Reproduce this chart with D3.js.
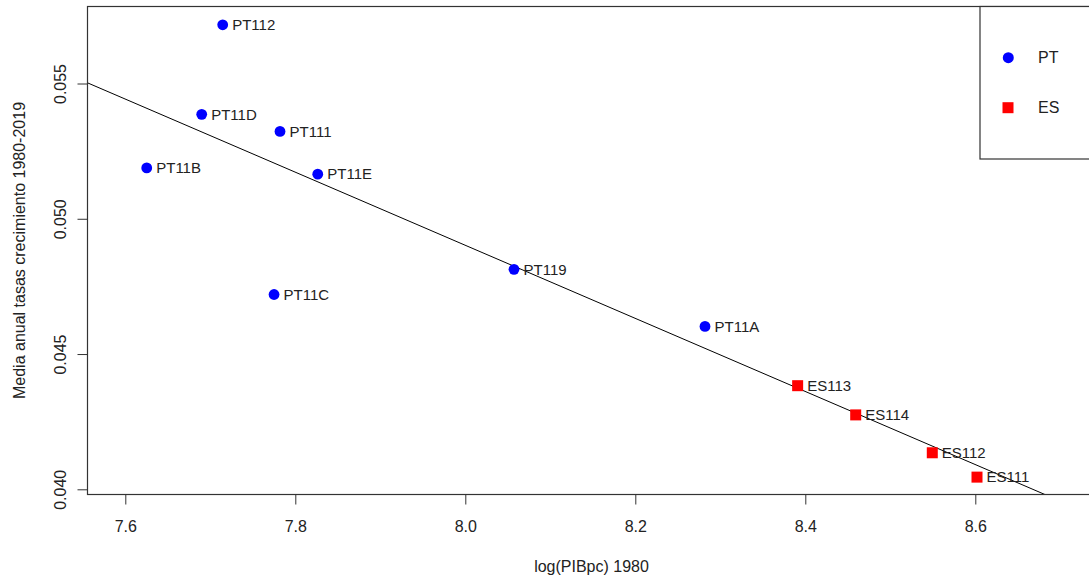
<!DOCTYPE html>
<html>
<head>
<meta charset="utf-8">
<script src="https://cdn.jsdelivr.net/npm/d3@7"></script>
<style>
  html, body { margin: 0; padding: 0; background: #fff; }
  svg { display: block; font-family: "Liberation Sans", Arial, sans-serif; }
</style>
</head>
<body>
<svg id="chart" width="1089" height="581"></svg>
<script>
// Regions, log GDP per capita in 1980 and mean annual growth 1980-2019
const regions  = ["PT112", "PT11D", "PT111", "PT11B", "PT11E", "PT11C", "PT119", "PT11A",
                  "ES113", "ES114", "ES112", "ES111"];
const country  = ["PT", "PT", "PT", "PT", "PT", "PT", "PT", "PT", "ES", "ES", "ES", "ES"];
const logGdp   = [7.7146, 7.6899, 7.7820, 7.6252, 7.8264, 7.7750, 8.0573, 8.2820,
                  8.3910, 8.4593, 8.5494, 8.6020];
const growth   = [0.05717, 0.05386, 0.05323, 0.05188, 0.05165, 0.04720, 0.04813, 0.04602,
                  0.04383, 0.04275, 0.04135, 0.04045];

// Fitted regression line: growth = intercept + slope * logGdp
const intercept = 0.1571;
const slope = -0.01351;

const xTicks = [7.6, 7.8, 8.0, 8.2, 8.4, 8.6];
const yTicks = [0.040, 0.045, 0.050, 0.055];
const legendKeys = ["PT", "ES"];

const svg = d3.select("#chart");

// Plot frame (right side runs past the page edge)
const frame = { left: 87.5, right: 1095.5, top: 6.5, bottom: 494.5 };

const x = d3.scaleLinear().domain([7.6, 8.6]).range([125.3, 975.3]);
const y = d3.scaleLinear().domain([0.040, 0.055]).range([489.3, 83.5]);

const colour = { PT: "#0000ff", ES: "#ff0000" };
const textCol = "#222";

// Clip for the regression line
svg.append("clipPath").attr("id", "plotClip")
  .append("rect")
  .attr("x", frame.left).attr("y", frame.top)
  .attr("width", frame.right - frame.left).attr("height", frame.bottom - frame.top);

// Regression line
const xd = x.invert(frame.left), xe = x.invert(frame.right);
svg.append("line")
  .attr("clip-path", "url(#plotClip)")
  .attr("x1", x(xd)).attr("y1", y(intercept + slope * xd))
  .attr("x2", x(xe)).attr("y2", y(intercept + slope * xe))
  .attr("stroke", "#000").attr("stroke-width", 1);

// Frame
svg.append("rect")
  .attr("x", frame.left).attr("y", frame.top)
  .attr("width", frame.right - frame.left).attr("height", frame.bottom - frame.top)
  .attr("fill", "none").attr("stroke", "#333").attr("stroke-width", 1.2);

// X axis
const xAxis = svg.append("g").attr("transform", `translate(0,${frame.bottom})`)
  .call(d3.axisBottom(x).tickValues(xTicks).tickFormat(d3.format(".1f")).tickSize(10).tickPadding(16));
xAxis.select(".domain").remove();
xAxis.selectAll("line").attr("stroke", "#333");
xAxis.selectAll("text").attr("font-size", 16).attr("fill", textCol)
  .attr("font-family", "Liberation Sans, Arial, sans-serif");

// Y axis (labels rotated as in base graphics)
const yAxis = svg.append("g").attr("transform", `translate(${frame.left},0)`)
  .call(d3.axisLeft(y).tickValues(yTicks).tickFormat(d3.format(".3f")).tickSize(10));
yAxis.select(".domain").remove();
yAxis.selectAll("line").attr("stroke", "#333");
yAxis.selectAll("text")
  .attr("font-size", 16).attr("fill", textCol)
  .attr("font-family", "Liberation Sans, Arial, sans-serif")
  .attr("x", null).attr("dy", null)
  .attr("text-anchor", "middle")
  .attr("transform", "translate(-22,0) rotate(-90)");

// Axis titles
svg.append("text")
  .attr("x", (frame.left + frame.right) / 2).attr("y", 572)
  .attr("text-anchor", "middle").attr("font-size", 16).attr("fill", textCol)
  .text("log(PIBpc) 1980");
svg.append("text")
  .attr("transform", `translate(24.5,${(frame.top + frame.bottom) / 2}) rotate(-90)`)
  .attr("text-anchor", "middle").attr("font-size", 16).attr("fill", textCol)
  .text("Media anual tasas crecimiento 1980-2019");

// Points
const data = regions.map((r, i) => ({ r, c: country[i], x: logGdp[i], y: growth[i] }));
const pts = svg.append("g");
pts.selectAll("circle").data(data.filter(d => d.c === "PT")).join("circle")
  .attr("cx", d => x(d.x)).attr("cy", d => y(d.y)).attr("r", 5.4)
  .attr("fill", colour.PT);
pts.selectAll("rect").data(data.filter(d => d.c === "ES")).join("rect")
  .attr("x", d => x(d.x) - 5.5).attr("y", d => y(d.y) - 5.5)
  .attr("width", 11).attr("height", 11)
  .attr("fill", colour.ES);

// Point labels
svg.append("g").selectAll("text").data(data).join("text")
  .attr("x", d => x(d.x) + 9.5).attr("y", d => y(d.y))
  .attr("dy", "0.35em").attr("font-size", 15).attr("fill", textCol)
  .text(d => d.r);

// Legend
const legend = svg.append("g");
legend.append("rect")
  .attr("x", 980).attr("y", frame.top).attr("width", 140).attr("height", 159 - frame.top)
  .attr("fill", "#fff").attr("stroke", "#333").attr("stroke-width", 1.2);
const legendY = d3.scalePoint().domain(legendKeys).range([57.7, 107.7]);
legendKeys.forEach(k => {
  if (k === "PT") {
    legend.append("circle").attr("cx", 1008.3).attr("cy", legendY(k)).attr("r", 5.5).attr("fill", colour.PT);
  } else {
    legend.append("rect").attr("x", 1008 - 5.5).attr("y", legendY(k) - 5.5)
      .attr("width", 11).attr("height", 11).attr("fill", colour.ES);
  }
  legend.append("text").attr("x", 1038).attr("y", legendY(k)).attr("dy", "0.35em")
    .attr("font-size", 16).attr("fill", textCol).text(k);
});
</script>
</body>
</html>
